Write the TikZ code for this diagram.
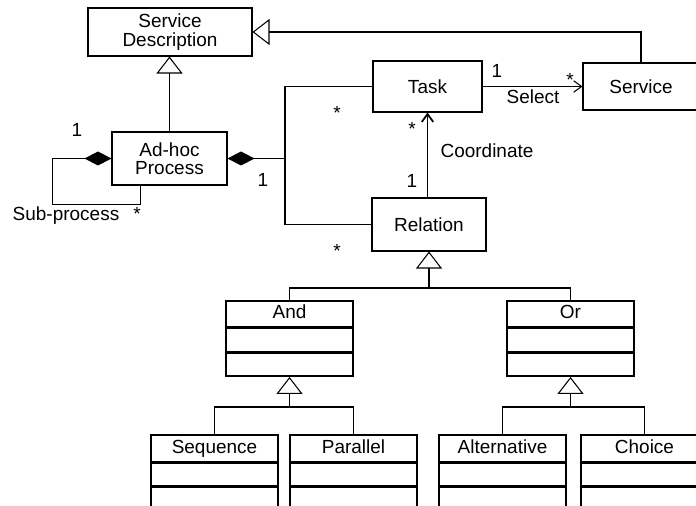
\documentclass[tikz,border=0pt]{standalone}
\usepackage{fontspec}
\setmainfont{Liberation Sans}
\usetikzlibrary{calc,positioning,arrows.meta}

\begin{document}
\begin{tikzpicture}[x=0.02cm, y=-0.02cm, line width=0.6pt,
    every node/.style={font=\fontsize{10.8}{10.5}\selectfont},
    box/.style={draw, align=center, inner sep=0pt},
    clshead/.style={draw, minimum width=2.54cm, minimum height=0.52cm, inner sep=0pt, line width=0.9pt,
      text height=0.72em, text depth=0.2em},
    clspart/.style={draw, minimum width=2.54cm, minimum height=0.46cm, inner sep=0pt, line width=0.9pt},
    lbl/.style={anchor=base, inner sep=0pt},
    gen/.style={-{Triangle[open, length=0.34cm, width=0.52cm]}},
    comp/.style={arrows={{Diamond[length=0.54cm, width=0.28cm]}-}},
    nav/.style={-{Straight Barb[length=4.5pt, width=6.5pt]}}]
  \useasboundingbox (0,0) rectangle (696,506);
  \clip (0,0) rectangle (696,506);

  % 上部的类
  \node[box, minimum width=3.28cm, minimum height=0.96cm] (sd) at (170,32) {Service\\Description};
  \node[box, minimum width=2.3cm, minimum height=1.06cm] (adhoc) at (169.5,158.5) {Ad-hoc\\Process};
  \node[box, minimum width=2.18cm, minimum height=1.02cm] (task) at (427.5,86.5) {Task};
  \node[box, minimum width=2.32cm, minimum height=0.94cm] (serv) at (641,86.5) {Service};
  \node[box, minimum width=2.28cm, minimum height=1.06cm] (rel) at (429,224.5) {Relation};

  % And / Or
  \node[clshead] (and) at (289.5,314) {And};
  \node[clspart, below=0pt of and] (and2) {};
  \node[clspart, below=0pt of and2] (and3) {};
  \node[clshead] (or) at (570.5,314) {Or};
  \node[clspart, below=0pt of or] (or2) {};
  \node[clspart, below=0pt of or2] (or3) {};

  % 最下面一行（被裁掉一部分）
  \node[clshead, minimum height=0.54cm] (seq) at (214.5,448.5) {Sequence};
  \node[clspart, minimum height=0.44cm, below=0pt of seq] (seq2) {};
  \node[clspart, minimum height=0.6cm, below=0pt of seq2] (seq3) {};
  \node[clshead, minimum height=0.54cm] (par) at (353.5,448.5) {Parallel};
  \node[clspart, minimum height=0.44cm, below=0pt of par] (par2) {};
  \node[clspart, minimum height=0.6cm, below=0pt of par2] (par3) {};
  \node[clshead, minimum height=0.54cm] (alt) at (502.5,448.5) {Alternative};
  \node[clspart, minimum height=0.44cm, below=0pt of alt] (alt2) {};
  \node[clspart, minimum height=0.6cm, below=0pt of alt2] (alt3) {};
  \node[clshead, minimum height=0.54cm] (cho) at (644.5,448.5) {Choice};
  \node[clspart, minimum height=0.44cm, below=0pt of cho] (cho2) {};
  \node[clspart, minimum height=0.6cm, below=0pt of cho2] (cho3) {};

  % 继承
  \draw[gen] (adhoc.north) -- (adhoc.north |- sd.south);
  \draw[gen] (serv.north) |- (sd.east);
  \coordinate (relbar) at (429,288);
  \draw[gen] (and.north) |- (relbar) -- (rel.south);
  \draw (or.north) |- (relbar);
  \coordinate (andbar) at (289.5,407);
  \draw[gen] (seq.north) |- (andbar) -- (and3.south);
  \draw (par.north) |- (andbar);
  \coordinate (orbar) at (570.5,407);
  \draw[gen] (alt.north) |- (orbar) -- (or3.south);
  \draw (cho.north) |- (orbar);

  % 组合
  \coordinate (junc) at (285,158.5);
  \draw[comp] (adhoc.east) -- (junc);
  \draw (task.west) -| (junc) |- (rel.west);
  \draw[comp] (adhoc.west) -- ++(-59,0) -- ++(0,46) -| ($(adhoc.south west)+(29,0)$);

  % 关联
  \draw[nav] (task.east) -- (serv.west);
  \draw[nav, line width=1pt] (task.south |- rel.north) -- (task.south);

  \node[lbl] (m1) at (77,137) {1};
  \node[lbl] (subp) at (66,221) {Sub-process};
  \node[lbl] (m2) at (137,221) {*};
  \node[lbl] (m3) at (263,187) {1};
  \node[lbl] (m4) at (337,120) {*};
  \node[lbl] (m5) at (337,258) {*};
  \node[lbl] (m6) at (497,78) {1};
  \node[lbl] (m7) at (570,87) {*};
  \node[lbl] (sel) at (533,104) {Select};
  \node[lbl] (m8) at (412,136) {*};
  \node[lbl] (coord) at (487,158) {Coordinate};
  \node[lbl] (m9) at (412,188) {1};
\end{tikzpicture}
\end{document}
